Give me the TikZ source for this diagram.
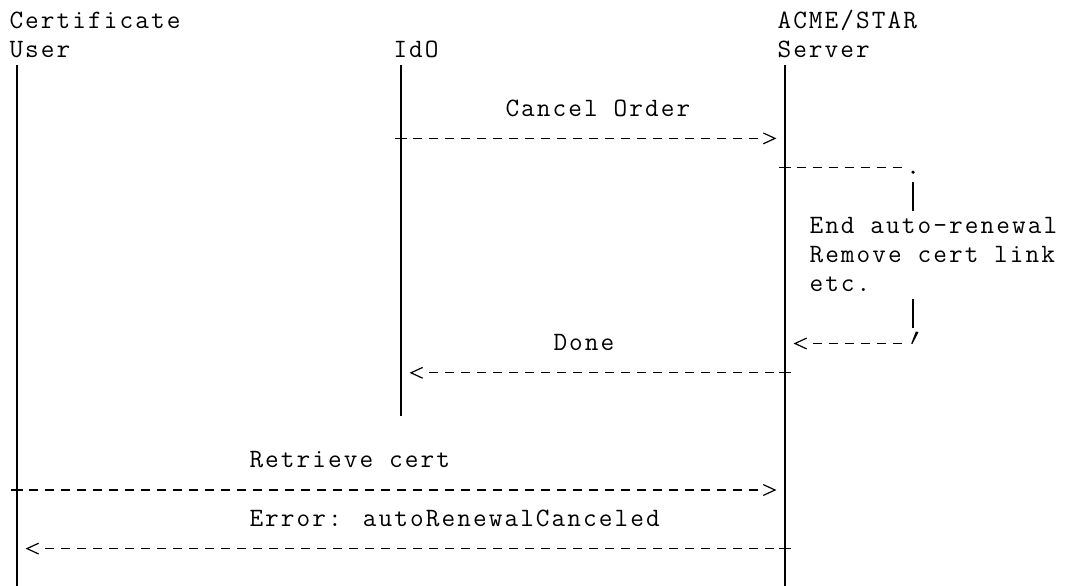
\documentclass[tikz,border=0pt]{standalone}
\usepackage{fontspec}
\newfontfamily\asc{Latin Modern Mono}[LetterSpace=7.9]
\tikzset{
  lbl/.style={anchor=base west, inner sep=0pt, outer sep=0pt,
    font=\asc\fontsize{26.5}{29.3}\selectfont},
  life/.style={line width=1.2pt},
  glyph/.style={line width=1.2pt},
  msg/.style={line width=1.2pt, dash pattern=on 9pt off 7pt, dash phase=4.5pt,
    shorten >=17.5pt},
  pics/asplus/.style={code={\draw[glyph] (-6,0) -- (6,0) (0,-6) -- (0,6);}},
  pics/rchev/.style={code={\draw[glyph, line join=miter] (-11.7,5.4) -- (0,0) -- (-11.7,-5.4);}},
  pics/lchev/.style={code={\draw[glyph, line join=miter] (11.7,5.4) -- (0,0) -- (11.7,-5.4);}},
}
\begin{document}
\begin{tikzpicture}[x=1pt,y=1pt]
\useasboundingbox[fill=white] (0,0) rectangle (1068,-586);

% participant labels
\node[lbl] (lblcert)   at (9.5,-28.2)  {Certificate};
\node[lbl] (lbluser)   at (9.5,-57.5)  {User};
\node[lbl] (lblido)    at (393.5,-57.5) {IdO};
\node[lbl] (lblacme)   at (777.5,-28.2) {ACME/STAR};
\node[lbl] (lblserver) at (777.5,-57.5) {Server};

% lifelines
\coordinate (uTop) at (17,-64.8);   \coordinate (uBot) at (17,-586);
\coordinate (iTop) at (401,-64.8);  \coordinate (iBot) at (401,-415.6);
\coordinate (sTop) at (785,-64.8);  \coordinate (sBot) at (785,-586);
\draw[life] (uTop) -- (uBot);
\draw[life] (iTop) -- (iBot);
\draw[life] (sTop) -- (sBot);

% Cancel Order
\node[lbl] (lblcancel) at (505.5,-116.1) {Cancel Order};
\coordinate (cancelFrom) at (401,-138.4);
\coordinate (cancelTip)  at (775,-138.4);
\pic at (cancelFrom) {asplus};
\draw[msg] (cancelFrom) -- (cancelTip);
\pic at (cancelTip) {rchev};

% self loop
\coordinate (loopFrom) at (785,-167.7);
\coordinate (loopDot)  at (913,-167.7);
\pic at (loopFrom) {asplus};
\draw[msg, shorten >=11.5pt] (loopFrom) -- (loopDot);
\fill (913,-172.2) circle (1.8);
\coordinate (loopA1) at (913,-182);   \coordinate (loopA2) at (913,-210.5);
\coordinate (loopB1) at (913,-299.2); \coordinate (loopB2) at (913,-327.7);
\draw[life] (loopA1) -- (loopA2);
\draw[life] (loopB1) -- (loopB2);
\node[lbl] (lblend)    at (809.5,-233.3) {End auto-renewal};
\node[lbl] (lblremove) at (809.5,-262.6) {Remove cert link};
\node[lbl] (lbletc)    at (809.5,-291.9) {etc.};
\coordinate (loopRet) at (913,-343.5);
\coordinate (loopTip) at (795,-343.5);
\fill (915.8,-331.5) -- (918.6,-332) -- (912.4,-344) -- (911.2,-343.6) -- cycle;
\draw[msg, shorten <=4.5pt, dash phase=9pt] (loopRet) -- (loopTip);
\pic at (loopTip) {lchev};

% Done
\node[lbl] (lbldone) at (553.5,-350.5) {Done};
\coordinate (doneFrom) at (785,-372.8);
\coordinate (doneTip)  at (411,-372.8);
\pic at (doneFrom) {asplus};
\draw[msg] (doneFrom) -- (doneTip);
\pic at (doneTip) {lchev};

% Retrieve cert
\node[lbl] (lblretrieve) at (249.5,-467.7) {Retrieve cert};
\coordinate (retFrom) at (17,-490);
\coordinate (retTip)  at (775,-490);
\pic at (retFrom) {asplus};
\draw[msg] (retFrom) -- (retTip);
\pic at (retTip) {rchev};

% Error
\node[lbl] (lblerror) at (249.5,-526.3) {Error: autoRenewalCanceled};
\coordinate (errFrom) at (785,-548.6);
\coordinate (errTip)  at (27,-548.6);
\pic at (errFrom) {asplus};
\draw[msg] (errFrom) -- (errTip);
\pic at (errTip) {lchev};
\end{tikzpicture}
\end{document}
